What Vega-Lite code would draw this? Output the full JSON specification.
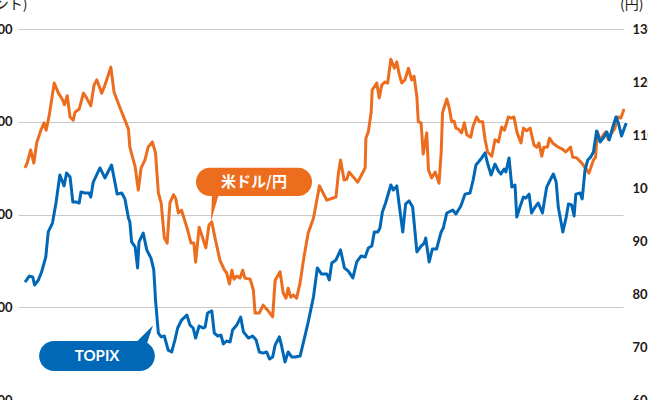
{
  "$schema": "https://vega.github.io/schema/vega-lite/v6.json",
  "autosize": "none",
  "width": 605,
  "height": 371,
  "padding": {"left": 18, "top": 29, "right": 25, "bottom": 0},
  "background": "white",
  "config": {
    "view": {"stroke": null},
    "axis": {
      "domain": false,
      "ticks": false,
      "labelFont": "Lato",
      "labelFontWeight": "bold",
      "labelFontSize": 13,
      "labelColor": "#231815",
      "titleFont": "Noto Sans CJK JP",
      "titleFontWeight": "normal",
      "titleFontSize": 14,
      "titleColor": "#231815",
      "titleAngle": 0,
      "titleAlign": "right",
      "titleBaseline": "alphabetic"
    }
  },
  "datasets": {
    "usdjpy": [
      {"year": 2005.00, "value": 103.8}, {"year": 2005.06, "value": 104.7}, {"year": 2005.16, "value": 107.2},
      {"year": 2005.25, "value": 104.7}, {"year": 2005.33, "value": 108.5}, {"year": 2005.45, "value": 110.9},
      {"year": 2005.54, "value": 112.3}, {"year": 2005.60, "value": 110.9}, {"year": 2005.69, "value": 113.8},
      {"year": 2005.83, "value": 119.8}, {"year": 2005.95, "value": 117.9}, {"year": 2006.07, "value": 116.6},
      {"year": 2006.12, "value": 115.7}, {"year": 2006.20, "value": 117.4}, {"year": 2006.28, "value": 113.4},
      {"year": 2006.37, "value": 112.8}, {"year": 2006.42, "value": 114.3}, {"year": 2006.54, "value": 114.9},
      {"year": 2006.66, "value": 117.9}, {"year": 2006.75, "value": 117.0}, {"year": 2006.87, "value": 115.5},
      {"year": 2006.96, "value": 119.4}, {"year": 2007.04, "value": 120.4}, {"year": 2007.18, "value": 117.9},
      {"year": 2007.27, "value": 119.4}, {"year": 2007.44, "value": 122.8}, {"year": 2007.53, "value": 118.1},
      {"year": 2007.65, "value": 116.0}, {"year": 2007.75, "value": 114.3}, {"year": 2007.84, "value": 112.8},
      {"year": 2007.94, "value": 111.1}, {"year": 2007.98, "value": 107.7}, {"year": 2008.13, "value": 104.0},
      {"year": 2008.22, "value": 99.6}, {"year": 2008.30, "value": 103.8}, {"year": 2008.41, "value": 105.3},
      {"year": 2008.50, "value": 107.7}, {"year": 2008.62, "value": 108.7}, {"year": 2008.71, "value": 106.6},
      {"year": 2008.79, "value": 99.1}, {"year": 2008.87, "value": 97.2}, {"year": 2008.96, "value": 90.6},
      {"year": 2009.04, "value": 89.6}, {"year": 2009.12, "value": 97.2}, {"year": 2009.22, "value": 98.7},
      {"year": 2009.28, "value": 98.1}, {"year": 2009.36, "value": 95.3}, {"year": 2009.45, "value": 95.8},
      {"year": 2009.60, "value": 92.6}, {"year": 2009.72, "value": 89.6}, {"year": 2009.80, "value": 89.6},
      {"year": 2009.85, "value": 86.0}, {"year": 2009.95, "value": 92.6}, {"year": 2010.04, "value": 90.8},
      {"year": 2010.14, "value": 88.7}, {"year": 2010.23, "value": 93.0}, {"year": 2010.31, "value": 93.6},
      {"year": 2010.40, "value": 90.6}, {"year": 2010.54, "value": 86.4}, {"year": 2010.67, "value": 84.5},
      {"year": 2010.73, "value": 84.0}, {"year": 2010.81, "value": 81.9}, {"year": 2010.88, "value": 84.5},
      {"year": 2010.94, "value": 82.8}, {"year": 2011.02, "value": 83.4}, {"year": 2011.11, "value": 83.0},
      {"year": 2011.19, "value": 84.5}, {"year": 2011.25, "value": 83.0}, {"year": 2011.40, "value": 82.8},
      {"year": 2011.49, "value": 80.8}, {"year": 2011.54, "value": 76.4}, {"year": 2011.66, "value": 76.4},
      {"year": 2011.77, "value": 77.9}, {"year": 2011.89, "value": 77.0}, {"year": 2012.04, "value": 75.7},
      {"year": 2012.11, "value": 82.6}, {"year": 2012.25, "value": 84.2}, {"year": 2012.34, "value": 80.2},
      {"year": 2012.42, "value": 79.2}, {"year": 2012.48, "value": 81.1}, {"year": 2012.55, "value": 79.4},
      {"year": 2012.63, "value": 79.8}, {"year": 2012.72, "value": 79.2}, {"year": 2012.82, "value": 82.1},
      {"year": 2012.93, "value": 87.0}, {"year": 2013.05, "value": 91.5}, {"year": 2013.20, "value": 94.3},
      {"year": 2013.37, "value": 100.4}, {"year": 2013.58, "value": 97.7}, {"year": 2013.84, "value": 98.3},
      {"year": 2013.91, "value": 102.8}, {"year": 2013.97, "value": 105.3}, {"year": 2014.07, "value": 101.5},
      {"year": 2014.15, "value": 101.7}, {"year": 2014.21, "value": 103.0}, {"year": 2014.33, "value": 102.1},
      {"year": 2014.46, "value": 101.1}, {"year": 2014.57, "value": 102.5}, {"year": 2014.67, "value": 103.8},
      {"year": 2014.69, "value": 109.4}, {"year": 2014.76, "value": 110.6}, {"year": 2014.84, "value": 114.3},
      {"year": 2014.87, "value": 118.5}, {"year": 2015.00, "value": 119.8}, {"year": 2015.07, "value": 117.0},
      {"year": 2015.14, "value": 119.4}, {"year": 2015.23, "value": 120.0}, {"year": 2015.31, "value": 119.8},
      {"year": 2015.40, "value": 124.3}, {"year": 2015.50, "value": 122.6}, {"year": 2015.57, "value": 123.8},
      {"year": 2015.63, "value": 121.7}, {"year": 2015.71, "value": 119.8}, {"year": 2015.80, "value": 120.4},
      {"year": 2015.90, "value": 122.6}, {"year": 2015.99, "value": 120.4}, {"year": 2016.06, "value": 121.1},
      {"year": 2016.14, "value": 117.2}, {"year": 2016.18, "value": 112.5}, {"year": 2016.26, "value": 112.3},
      {"year": 2016.32, "value": 106.4}, {"year": 2016.42, "value": 110.4}, {"year": 2016.47, "value": 103.4},
      {"year": 2016.56, "value": 101.9}, {"year": 2016.66, "value": 103.0}, {"year": 2016.77, "value": 100.9},
      {"year": 2016.83, "value": 106.6}, {"year": 2016.87, "value": 114.2}, {"year": 2016.99, "value": 116.8},
      {"year": 2017.06, "value": 115.1}, {"year": 2017.13, "value": 112.5}, {"year": 2017.20, "value": 112.6},
      {"year": 2017.25, "value": 111.3}, {"year": 2017.32, "value": 111.1}, {"year": 2017.41, "value": 110.4},
      {"year": 2017.49, "value": 112.3}, {"year": 2017.56, "value": 110.0}, {"year": 2017.67, "value": 109.6},
      {"year": 2017.74, "value": 111.7}, {"year": 2017.84, "value": 113.4}, {"year": 2017.92, "value": 112.5},
      {"year": 2018.01, "value": 112.5}, {"year": 2018.08, "value": 109.1}, {"year": 2018.15, "value": 106.8},
      {"year": 2018.27, "value": 106.0}, {"year": 2018.36, "value": 109.1}, {"year": 2018.46, "value": 108.7},
      {"year": 2018.55, "value": 111.5}, {"year": 2018.63, "value": 110.9}, {"year": 2018.74, "value": 113.4},
      {"year": 2018.82, "value": 113.2}, {"year": 2018.90, "value": 113.4}, {"year": 2018.99, "value": 110.4},
      {"year": 2019.10, "value": 108.5}, {"year": 2019.17, "value": 111.3}, {"year": 2019.26, "value": 110.8},
      {"year": 2019.36, "value": 111.3}, {"year": 2019.47, "value": 108.1}, {"year": 2019.55, "value": 107.7},
      {"year": 2019.61, "value": 108.5}, {"year": 2019.69, "value": 106.0}, {"year": 2019.75, "value": 107.7},
      {"year": 2019.85, "value": 107.7}, {"year": 2019.91, "value": 109.4}, {"year": 2020.00, "value": 108.5},
      {"year": 2020.16, "value": 107.7}, {"year": 2020.26, "value": 107.4}, {"year": 2020.37, "value": 106.8},
      {"year": 2020.51, "value": 107.7}, {"year": 2020.57, "value": 105.8}, {"year": 2020.68, "value": 105.7},
      {"year": 2020.83, "value": 104.7}, {"year": 2020.97, "value": 103.4}, {"year": 2021.03, "value": 102.8},
      {"year": 2021.16, "value": 105.3}, {"year": 2021.22, "value": 105.8}, {"year": 2021.27, "value": 110.6},
      {"year": 2021.35, "value": 109.1}, {"year": 2021.44, "value": 110.0}, {"year": 2021.51, "value": 110.6},
      {"year": 2021.58, "value": 109.2}, {"year": 2021.68, "value": 110.4}, {"year": 2021.77, "value": 111.3},
      {"year": 2021.85, "value": 113.4}, {"year": 2021.94, "value": 113.2}, {"year": 2022.03, "value": 114.9}
    ],
    "topix": [
      {"year": 2005.00, "value": 1136}, {"year": 2005.12, "value": 1168}, {"year": 2005.22, "value": 1163},
      {"year": 2005.27, "value": 1120}, {"year": 2005.38, "value": 1147}, {"year": 2005.47, "value": 1190},
      {"year": 2005.59, "value": 1271}, {"year": 2005.66, "value": 1406}, {"year": 2005.78, "value": 1454},
      {"year": 2005.88, "value": 1562}, {"year": 2005.99, "value": 1713}, {"year": 2006.11, "value": 1654},
      {"year": 2006.18, "value": 1724}, {"year": 2006.28, "value": 1702}, {"year": 2006.36, "value": 1567},
      {"year": 2006.47, "value": 1567}, {"year": 2006.54, "value": 1562}, {"year": 2006.59, "value": 1621},
      {"year": 2006.70, "value": 1616}, {"year": 2006.82, "value": 1616}, {"year": 2006.87, "value": 1594},
      {"year": 2006.94, "value": 1675}, {"year": 2007.13, "value": 1751}, {"year": 2007.27, "value": 1697},
      {"year": 2007.46, "value": 1767}, {"year": 2007.62, "value": 1610}, {"year": 2007.75, "value": 1616},
      {"year": 2007.84, "value": 1584}, {"year": 2007.94, "value": 1481}, {"year": 2007.98, "value": 1460},
      {"year": 2008.03, "value": 1352}, {"year": 2008.13, "value": 1325}, {"year": 2008.20, "value": 1212},
      {"year": 2008.24, "value": 1352}, {"year": 2008.36, "value": 1400}, {"year": 2008.46, "value": 1309},
      {"year": 2008.58, "value": 1265}, {"year": 2008.66, "value": 1201}, {"year": 2008.71, "value": 1039},
      {"year": 2008.79, "value": 861}, {"year": 2008.87, "value": 840}, {"year": 2008.96, "value": 845},
      {"year": 2009.07, "value": 769}, {"year": 2009.17, "value": 759}, {"year": 2009.26, "value": 823},
      {"year": 2009.34, "value": 888}, {"year": 2009.45, "value": 931}, {"year": 2009.60, "value": 958},
      {"year": 2009.69, "value": 904}, {"year": 2009.78, "value": 888}, {"year": 2009.85, "value": 834},
      {"year": 2009.95, "value": 899}, {"year": 2010.07, "value": 888}, {"year": 2010.12, "value": 893},
      {"year": 2010.19, "value": 969}, {"year": 2010.31, "value": 980}, {"year": 2010.38, "value": 861},
      {"year": 2010.48, "value": 845}, {"year": 2010.57, "value": 850}, {"year": 2010.64, "value": 802},
      {"year": 2010.73, "value": 818}, {"year": 2010.83, "value": 813}, {"year": 2010.90, "value": 877},
      {"year": 2011.02, "value": 904}, {"year": 2011.13, "value": 947}, {"year": 2011.21, "value": 867},
      {"year": 2011.35, "value": 834}, {"year": 2011.47, "value": 845}, {"year": 2011.57, "value": 823},
      {"year": 2011.66, "value": 759}, {"year": 2011.77, "value": 753}, {"year": 2011.87, "value": 759},
      {"year": 2011.95, "value": 721}, {"year": 2012.04, "value": 732}, {"year": 2012.11, "value": 796},
      {"year": 2012.23, "value": 840}, {"year": 2012.30, "value": 786}, {"year": 2012.39, "value": 705},
      {"year": 2012.48, "value": 759}, {"year": 2012.58, "value": 732}, {"year": 2012.68, "value": 732},
      {"year": 2012.82, "value": 737}, {"year": 2012.93, "value": 823}, {"year": 2013.05, "value": 920},
      {"year": 2013.20, "value": 1055}, {"year": 2013.31, "value": 1212}, {"year": 2013.43, "value": 1179},
      {"year": 2013.58, "value": 1179}, {"year": 2013.65, "value": 1147}, {"year": 2013.72, "value": 1239},
      {"year": 2013.84, "value": 1255}, {"year": 2013.97, "value": 1309}, {"year": 2014.08, "value": 1212},
      {"year": 2014.19, "value": 1195}, {"year": 2014.32, "value": 1158}, {"year": 2014.43, "value": 1244},
      {"year": 2014.55, "value": 1276}, {"year": 2014.67, "value": 1271}, {"year": 2014.76, "value": 1319},
      {"year": 2014.86, "value": 1330}, {"year": 2014.93, "value": 1406}, {"year": 2015.03, "value": 1406},
      {"year": 2015.09, "value": 1427}, {"year": 2015.16, "value": 1513}, {"year": 2015.25, "value": 1562},
      {"year": 2015.40, "value": 1659}, {"year": 2015.47, "value": 1632}, {"year": 2015.57, "value": 1654},
      {"year": 2015.63, "value": 1562}, {"year": 2015.74, "value": 1406}, {"year": 2015.82, "value": 1557},
      {"year": 2015.92, "value": 1573}, {"year": 2016.02, "value": 1540}, {"year": 2016.14, "value": 1298},
      {"year": 2016.26, "value": 1330}, {"year": 2016.35, "value": 1346}, {"year": 2016.39, "value": 1373},
      {"year": 2016.49, "value": 1244}, {"year": 2016.58, "value": 1314}, {"year": 2016.70, "value": 1314},
      {"year": 2016.83, "value": 1406}, {"year": 2016.89, "value": 1427}, {"year": 2016.99, "value": 1508},
      {"year": 2017.16, "value": 1524}, {"year": 2017.25, "value": 1503}, {"year": 2017.39, "value": 1546},
      {"year": 2017.51, "value": 1610}, {"year": 2017.65, "value": 1616}, {"year": 2017.74, "value": 1686},
      {"year": 2017.82, "value": 1767}, {"year": 2017.96, "value": 1799}, {"year": 2018.08, "value": 1832},
      {"year": 2018.14, "value": 1783}, {"year": 2018.25, "value": 1713}, {"year": 2018.36, "value": 1772},
      {"year": 2018.46, "value": 1734}, {"year": 2018.53, "value": 1718}, {"year": 2018.62, "value": 1745},
      {"year": 2018.67, "value": 1729}, {"year": 2018.76, "value": 1805}, {"year": 2018.84, "value": 1648},
      {"year": 2018.93, "value": 1659}, {"year": 2018.98, "value": 1486}, {"year": 2019.07, "value": 1540},
      {"year": 2019.17, "value": 1594}, {"year": 2019.24, "value": 1589}, {"year": 2019.33, "value": 1610},
      {"year": 2019.40, "value": 1508}, {"year": 2019.50, "value": 1540}, {"year": 2019.59, "value": 1562},
      {"year": 2019.71, "value": 1508}, {"year": 2019.83, "value": 1648}, {"year": 2019.93, "value": 1686},
      {"year": 2020.02, "value": 1718}, {"year": 2020.10, "value": 1675}, {"year": 2020.16, "value": 1540},
      {"year": 2020.29, "value": 1406}, {"year": 2020.38, "value": 1481}, {"year": 2020.45, "value": 1557},
      {"year": 2020.54, "value": 1551}, {"year": 2020.61, "value": 1492}, {"year": 2020.66, "value": 1610},
      {"year": 2020.78, "value": 1616}, {"year": 2020.84, "value": 1584}, {"year": 2020.92, "value": 1740},
      {"year": 2021.00, "value": 1794}, {"year": 2021.08, "value": 1810}, {"year": 2021.16, "value": 1837},
      {"year": 2021.25, "value": 1950}, {"year": 2021.35, "value": 1891}, {"year": 2021.46, "value": 1918},
      {"year": 2021.54, "value": 1945}, {"year": 2021.61, "value": 1902}, {"year": 2021.71, "value": 1972},
      {"year": 2021.80, "value": 2026}, {"year": 2021.87, "value": 1993}, {"year": 2021.96, "value": 1923},
      {"year": 2022.09, "value": 1993}
    ],
    "usdjpy_note": [
      {"label": "米ドル/円", "start": 2009.86, "end": 2013.16, "low": 98.5, "high": 103.8, "mid": 2011.51, "centre": 101.1, "tipYear": 2010.40, "tipValue": 96.3}
    ],
    "topix_note": [
      {"label": "TOPIX", "start": 2005.40, "end": 2008.69, "low": 656, "high": 818, "mid": 2007.05, "centre": 737, "tipYear": 2008.38, "tipValue": 853}
    ]
  },
  "layer": [
    {
      "layer": [
        {
          "data": {"name": "usdjpy"},
          "mark": {"type": "line", "color": "#ED6D1F", "strokeWidth": 3, "strokeJoin": "round"},
          "encoding": {
            "x": {"field": "year", "type": "quantitative", "scale": {"domain": [2004.8, 2022], "nice": false, "zero": false}, "axis": null},
            "y": {
              "field": "value", "type": "quantitative", "title": "(円)",
              "scale": {"domain": [60, 130], "nice": false, "zero": false},
              "axis": {"orient": "right", "values": [60, 70, 80, 90, 100, 110, 120, 130], "grid": false, "labelPadding": 9, "labelAlign": "left", "title": "(円)", "titleX": 20, "titleY": -21}
            }
          }
        },
        {
          "data": {"name": "usdjpy_note"},
          "mark": {"type": "rect", "color": "#ED6D1F", "cornerRadius": 14},
          "encoding": {
            "x": {"field": "start", "type": "quantitative", "scale": {"domain": [2004.8, 2022], "nice": false, "zero": false}, "axis": null},
            "x2": {"field": "end"},
            "y": {
              "field": "high", "type": "quantitative", "title": "(円)",
              "scale": {"domain": [60, 130], "nice": false, "zero": false},
              "axis": {"orient": "right", "values": [60, 70, 80, 90, 100, 110, 120, 130], "grid": false, "labelPadding": 9, "labelAlign": "left", "title": "(円)", "titleX": 20, "titleY": -21}
            },
            "y2": {"field": "low"}
          }
        },
        {
          "data": {"name": "usdjpy_note"},
          "mark": {"type": "point", "shape": "M-0.21,-1L0.29,-1L-0.29,1Z", "size": 784, "filled": true, "opacity": 1, "color": "#ED6D1F", "strokeWidth": 0},
          "encoding": {
            "x": {"field": "tipYear", "type": "quantitative", "scale": {"domain": [2004.8, 2022], "nice": false, "zero": false}, "axis": null},
            "y": {
              "field": "tipValue", "type": "quantitative", "title": "(円)",
              "scale": {"domain": [60, 130], "nice": false, "zero": false},
              "axis": {"orient": "right", "values": [60, 70, 80, 90, 100, 110, 120, 130], "grid": false, "labelPadding": 9, "labelAlign": "left", "title": "(円)", "titleX": 20, "titleY": -21}
            }
          }
        },
        {
          "data": {"name": "usdjpy_note"},
          "mark": {"type": "text", "font": "Noto Sans CJK JP", "fontWeight": "bold", "fontSize": 15, "color": "white", "align": "center", "baseline": "middle"},
          "encoding": {
            "x": {"field": "mid", "type": "quantitative", "scale": {"domain": [2004.8, 2022], "nice": false, "zero": false}, "axis": null},
            "y": {
              "field": "centre", "type": "quantitative", "title": "(円)",
              "scale": {"domain": [60, 130], "nice": false, "zero": false},
              "axis": {"orient": "right", "values": [60, 70, 80, 90, 100, 110, 120, 130], "grid": false, "labelPadding": 9, "labelAlign": "left", "title": "(円)", "titleX": 20, "titleY": -21}
            },
            "text": {"field": "label"}
          }
        }
      ]
    },
    {
      "layer": [
        {
          "data": {"name": "topix"},
          "mark": {"type": "line", "color": "#0068B6", "strokeWidth": 3, "strokeJoin": "round"},
          "encoding": {
            "x": {"field": "year", "type": "quantitative", "scale": {"domain": [2004.8, 2022], "nice": false, "zero": false}, "axis": null},
            "y": {
              "field": "value", "type": "quantitative", "title": "(ポイント)",
              "scale": {"domain": [500, 2500], "nice": false, "zero": false},
              "axis": {"orient": "left", "values": [500, 1000, 1500, 2000, 2500], "labelExpr": "format(datum.value, ',.0f')", "grid": true, "gridColor": "#c9c9c9", "gridWidth": 1, "labelPadding": 6, "title": "(ポイント)", "titleX": 9, "titleY": -21}
            }
          }
        },
        {
          "data": {"name": "topix_note"},
          "mark": {"type": "rect", "color": "#0068B6", "cornerRadius": 15},
          "encoding": {
            "x": {"field": "start", "type": "quantitative", "scale": {"domain": [2004.8, 2022], "nice": false, "zero": false}, "axis": null},
            "x2": {"field": "end"},
            "y": {
              "field": "high", "type": "quantitative", "title": "(ポイント)",
              "scale": {"domain": [500, 2500], "nice": false, "zero": false},
              "axis": {"orient": "left", "values": [500, 1000, 1500, 2000, 2500], "labelExpr": "format(datum.value, ',.0f')", "grid": true, "gridColor": "#c9c9c9", "gridWidth": 1, "labelPadding": 6, "title": "(ポイント)", "titleX": 9, "titleY": -21}
            },
            "y2": {"field": "low"}
          }
        },
        {
          "data": {"name": "topix_note"},
          "mark": {"type": "point", "shape": "M-0.9,0.9L0.3,0.9L0.9,-0.9Z", "size": 400, "filled": true, "opacity": 1, "color": "#0068B6", "strokeWidth": 0},
          "encoding": {
            "x": {"field": "tipYear", "type": "quantitative", "scale": {"domain": [2004.8, 2022], "nice": false, "zero": false}, "axis": null},
            "y": {
              "field": "tipValue", "type": "quantitative", "title": "(ポイント)",
              "scale": {"domain": [500, 2500], "nice": false, "zero": false},
              "axis": {"orient": "left", "values": [500, 1000, 1500, 2000, 2500], "labelExpr": "format(datum.value, ',.0f')", "grid": true, "gridColor": "#c9c9c9", "gridWidth": 1, "labelPadding": 6, "title": "(ポイント)", "titleX": 9, "titleY": -21}
            }
          }
        },
        {
          "data": {"name": "topix_note"},
          "mark": {"type": "text", "font": "Lato", "fontWeight": "bold", "fontSize": 15, "color": "white", "align": "center", "baseline": "middle"},
          "encoding": {
            "x": {"field": "mid", "type": "quantitative", "scale": {"domain": [2004.8, 2022], "nice": false, "zero": false}, "axis": null},
            "y": {
              "field": "centre", "type": "quantitative", "title": "(ポイント)",
              "scale": {"domain": [500, 2500], "nice": false, "zero": false},
              "axis": {"orient": "left", "values": [500, 1000, 1500, 2000, 2500], "labelExpr": "format(datum.value, ',.0f')", "grid": true, "gridColor": "#c9c9c9", "gridWidth": 1, "labelPadding": 6, "title": "(ポイント)", "titleX": 9, "titleY": -21}
            },
            "text": {"field": "label"}
          }
        }
      ]
    }
  ],
  "resolve": {"scale": {"y": "independent"}}
}
